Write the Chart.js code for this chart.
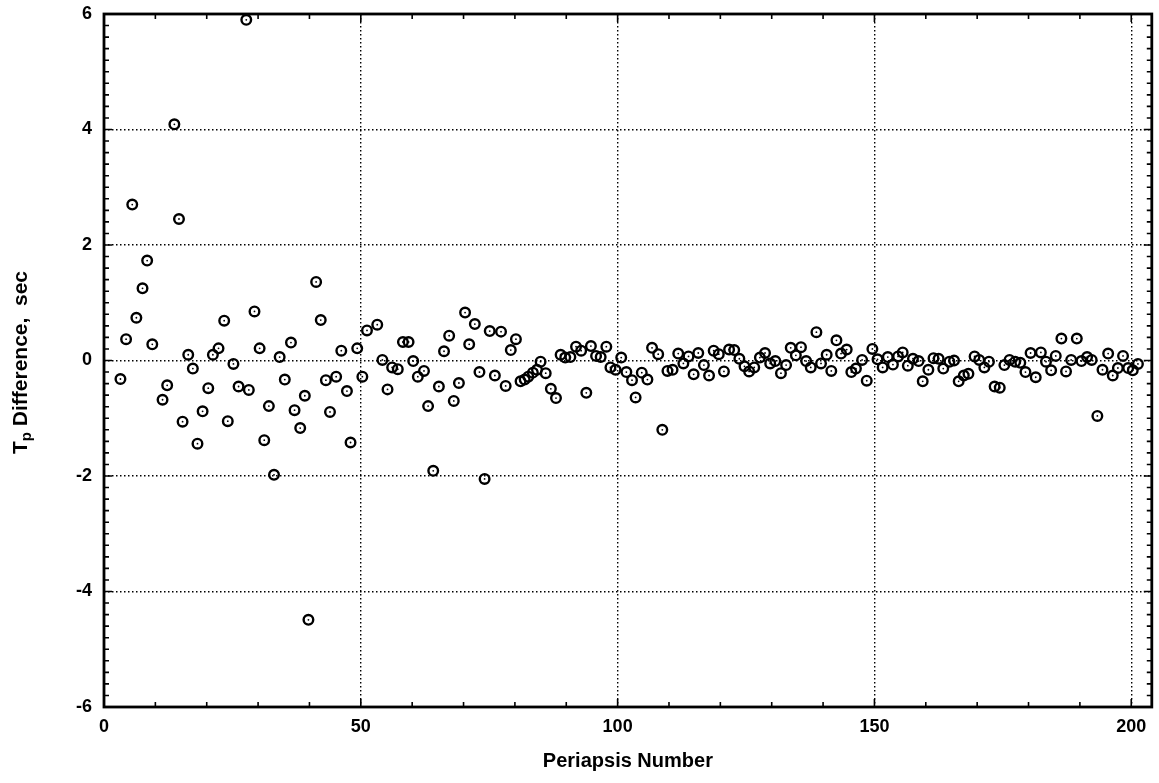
<!DOCTYPE html>
<html>
<head>
<meta charset="utf-8">
<script src="https://cdn.jsdelivr.net/npm/chart.js@4.4.0/dist/chart.umd.min.js"></script>
<style>
  body { margin: 0; background: #fff; }
  #tpChart { display: block; }
</style>
</head>
<body>
<canvas id="tpChart" width="1159" height="783"></canvas>
<script>
// periapsis number
var periapsis = [
  3.2, 4.3, 5.5, 6.3, 7.5, 8.4, 9.4, 11.4, 12.3, 13.7,
  14.6, 15.3, 16.4, 17.3, 18.2, 19.2, 20.3, 21.2, 22.3, 23.4,
  24.1, 25.2, 26.2, 27.7, 28.2, 29.3, 30.3, 31.2, 32.1, 33.1,
  34.2, 35.2, 36.4, 37.1, 38.2, 39.1, 39.8, 41.3, 42.2, 43.2,
  44.0, 45.2, 46.2, 47.3, 48.0, 49.3, 50.3, 51.2, 53.2, 54.2,
  55.2, 56.1, 57.2, 58.2, 59.3, 60.2, 61.1, 62.3, 63.1, 64.1,
  65.2, 66.2, 67.2, 68.1, 69.1, 70.3, 71.1, 72.2, 73.1, 74.1,
  75.1, 76.1, 77.3, 78.2, 79.2, 80.2, 81.1, 81.9, 82.6, 83.5,
  84.3, 85.0, 86.0, 87.0, 88.0, 88.9, 89.8, 90.8, 91.9, 92.9,
  93.9, 94.8, 95.8, 96.7, 97.8, 98.6, 99.6, 100.7, 101.7, 102.8,
  103.5, 104.7, 105.8, 106.7, 107.9, 108.7, 109.7, 110.7, 111.8, 112.8,
  113.8, 114.8, 115.7, 116.8, 117.8, 118.7, 119.7, 120.7, 121.7, 122.7,
  123.7, 124.7, 125.6, 126.6, 127.7, 128.7, 129.7, 130.7, 131.8, 132.8,
  133.7, 134.7, 135.7, 136.7, 137.6, 138.7, 139.6, 140.7, 141.6, 142.6,
  143.5, 144.6, 145.5, 146.4, 147.6, 148.5, 149.6, 150.6, 151.6, 152.6,
  153.6, 154.6, 155.5, 156.5, 157.5, 158.6, 159.4, 160.5, 161.5, 162.5,
  163.4, 164.6, 165.5, 166.4, 167.4, 168.3, 169.5, 170.4, 171.4, 172.3,
  173.4, 174.4, 175.3, 176.3, 177.4, 178.4, 179.4, 180.4, 181.4, 182.4,
  183.4, 184.4, 185.3, 186.4, 187.3, 188.3, 189.4, 190.3, 191.4, 192.3,
  193.4, 194.4, 195.5, 196.4, 197.4, 198.4, 199.4, 200.3, 201.3
];

// Tp difference, sec
var tpDiff = [
  -0.32, 0.37, 2.70, 0.74, 1.25, 1.73, 0.28, -0.68, -0.43, 4.09,
  2.45, -1.06, 0.10, -0.14, -1.44, -0.88, -0.48, 0.10, 0.21, 0.69,
  -1.05, -0.06, -0.45, 5.90, -0.51, 0.85, 0.21, -1.38, -0.79, -1.98,
  0.06, -0.33, 0.31, -0.86, -1.17, -0.61, -4.49, 1.36, 0.70, -0.34,
  -0.89, -0.28, 0.17, -0.53, -1.42, 0.21, -0.28, 0.52, 0.62, 0.01,
  -0.50, -0.12, -0.15, 0.32, 0.32, -0.01, -0.28, -0.18, -0.79, -1.91,
  -0.45, 0.16, 0.43, -0.70, -0.39, 0.83, 0.28, 0.63, -0.20, -2.05,
  0.51, -0.26, 0.50, -0.44, 0.18, 0.37, -0.36, -0.33, -0.28, -0.21,
  -0.16, -0.02, -0.22, -0.49, -0.65, 0.10, 0.05, 0.06, 0.24, 0.17,
  -0.56, 0.25, 0.08, 0.06, 0.24, -0.12, -0.16, 0.05, -0.20, -0.34,
  -0.64, -0.21, -0.33, 0.22, 0.11, -1.20, -0.18, -0.16, 0.12, -0.05,
  0.07, -0.24, 0.13, -0.08, -0.26, 0.17, 0.11, -0.19, 0.19, 0.18,
  0.03, -0.10, -0.19, -0.12, 0.05, 0.13, -0.05, -0.01, -0.22, -0.08,
  0.22, 0.09, 0.23, -0.01, -0.12, 0.49, -0.05, 0.10, -0.18, 0.35,
  0.12, 0.19, -0.20, -0.14, 0.01, -0.35, 0.20, 0.02, -0.12, 0.06,
  -0.07, 0.07, 0.14, -0.09, 0.03, -0.01, -0.36, -0.16, 0.04, 0.03,
  -0.14, -0.02, 0.00, -0.36, -0.26, -0.23, 0.07, 0.01, -0.12, -0.02,
  -0.45, -0.47, -0.08, 0.01, -0.02, -0.04, -0.20, 0.13, -0.29, 0.14,
  -0.02, -0.17, 0.08, 0.38, -0.19, 0.01, 0.38, -0.01, 0.06, 0.01,
  -0.96, -0.16, 0.12, -0.26, -0.13, 0.08, -0.13, -0.17, -0.06
];

var xRange = [0, 204];
var yRange = [-6, 6];

var points = periapsis.map(function (n, i) {
  return { x: n, y: tpDiff[i] };
});

var FONT = "'Liberation Sans', Arial, sans-serif";

// frame, inward minor ticks and the y title with subscript
var framePlugin = {
  id: "frame",
  afterDraw: function (chart) {
    var c = chart.ctx;
    var a = chart.chartArea;
    var xs = chart.scales.x;
    var ys = chart.scales.y;
    c.save();
    c.strokeStyle = "#000";
    c.lineWidth = 1.6;
    var v, p, len;
    for (v = xRange[0] + 10; v < xRange[1]; v += 10) {
      p = xs.getPixelForValue(v);
      len = v % 50 === 0 ? 8 : 5;
      c.beginPath();
      c.moveTo(p, a.bottom); c.lineTo(p, a.bottom - len);
      c.moveTo(p, a.top); c.lineTo(p, a.top + len);
      c.stroke();
    }
    for (var k = 1; k < 60; k++) {
      v = yRange[0] + k * 0.2;
      p = ys.getPixelForValue(v);
      len = k % 10 === 0 ? 8 : 5;
      c.beginPath();
      c.moveTo(a.left, p); c.lineTo(a.left + len, p);
      c.moveTo(a.right, p); c.lineTo(a.right - len, p);
      c.stroke();
    }
    c.lineWidth = 2.8;
    c.strokeRect(a.left, a.top, a.right - a.left, a.bottom - a.top);

    // y axis title
    c.translate(21, (a.top + a.bottom) / 2 + 2);
    c.rotate(-Math.PI / 2);
    c.fillStyle = "#000";
    c.textBaseline = "middle";
    var main = "T";
    var sub = "p";
    var rest = " Difference,  sec";
    c.font = "bold 21px " + FONT;
    var w1 = c.measureText(main).width;
    var w3 = c.measureText(rest).width;
    c.font = "bold 15px " + FONT;
    var w2 = c.measureText(sub).width;
    var x0 = -(w1 + w2 + w3) / 2;
    c.font = "bold 21px " + FONT;
    c.fillText(main, x0, 0);
    c.font = "bold 15px " + FONT;
    c.fillText(sub, x0 + w1, 6);
    c.font = "bold 21px " + FONT;
    c.fillText(rest, x0 + w1 + w2, 0);
    c.restore();
  }
};

var ctx = document.getElementById("tpChart");

new Chart(ctx, {
  type: "scatter",
  data: {
    datasets: [
      {
        label: "Tp difference",
        data: points,
        pointRadius: 4.8,
        pointBorderWidth: 2.4,
        pointBorderColor: "#000",
        pointBackgroundColor: "rgba(255,255,255,0)"
      },
      {
        label: "centre",
        data: points,
        pointRadius: 0.9,
        pointBorderWidth: 0,
        pointBackgroundColor: "#000"
      }
    ]
  },
  options: {
    responsive: false,
    animation: false,
    layout: { padding: { left: 0, top: 14, right: 7, bottom: 0 } },
    plugins: {
      legend: { display: false },
      tooltip: { enabled: false }
    },
    scales: {
      x: {
        type: "linear",
        min: xRange[0],
        max: xRange[1],
        afterFit: function (scale) {
          scale.height = 76;
          scale.paddingLeft = 0;
          scale.paddingRight = 0;
        },
        ticks: {
          stepSize: 50,
          includeBounds: false,
          padding: 9,
          color: "#000",
          maxRotation: 0,
          font: { family: FONT, size: 18, weight: "bold" }
        },
        grid: { color: "#000", lineWidth: 1.4, drawTicks: false },
        border: { display: false, dash: [1.5, 2.5] },
        title: {
          display: true,
          text: "Periapsis Number",
          color: "#000",
          padding: { top: 0, bottom: 10 },
          font: { family: FONT, size: 20, weight: "bold" }
        }
      },
      y: {
        type: "linear",
        min: yRange[0],
        max: yRange[1],
        afterFit: function (scale) {
          scale.width = 104;
          scale.paddingTop = 0;
          scale.paddingBottom = 0;
        },
        ticks: {
          stepSize: 2,
          padding: 12,
          color: "#000",
          font: { family: FONT, size: 18, weight: "bold" }
        },
        grid: { color: "#000", lineWidth: 1.4, drawTicks: false },
        border: { display: false, dash: [1.5, 2.5] }
      }
    }
  },
  plugins: [framePlugin]
});
</script>
</body>
</html>
